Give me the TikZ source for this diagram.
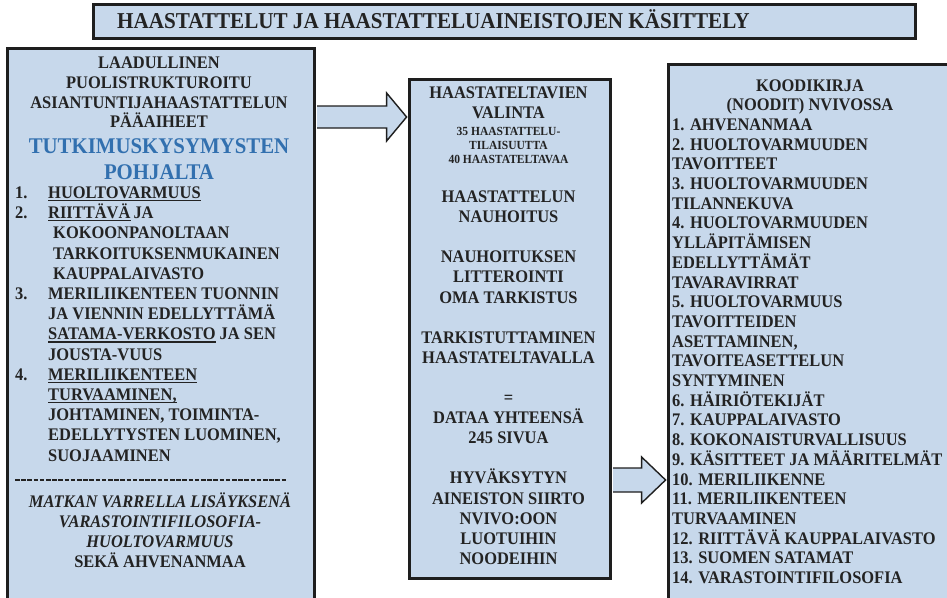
\documentclass[tikz,border=0pt]{standalone}
\usepackage{fontspec}
\setmainfont{Liberation Serif}[FakeStretch=0.93]
\usetikzlibrary{calc}
\definecolor{boxfill}{RGB}{199,216,235}
\definecolor{boxline}{RGB}{30,30,30}
\definecolor{txt}{RGB}{35,35,35}
\definecolor{blu}{RGB}{50,112,175}
\newcommand\bodyfnt{\fontsize{17.7}{20}\selectfont\bfseries}
\newcommand\titlefnt{\fontsize{22.7}{24}\selectfont\bfseries}
\newcommand\smallfnt{\fontsize{12.4}{14}\selectfont\bfseries}
\newcommand\bluefnt{\fontsize{22.4}{24}\selectfont\bfseries}
\newcommand\ulbox[1]{\setbox0\hbox{#1}\rlap{\rule[-2.6pt]{\wd0}{1.2pt}}\box0}
\tikzset{
  panel/.style={draw=boxline, line width=2.8pt, fill=boxfill, inner sep=0pt, anchor=north west},
  barrow/.style={draw=boxline, line width=1.4pt, fill=boxfill, line join=miter},
  tc/.style={inner sep=0pt, text=txt, font=\bodyfnt, anchor=base},
  tl/.style={tc, anchor=base west},
  tsmall/.style={inner sep=0pt, text=txt, font=\smallfnt, anchor=base},
  tblue/.style={inner sep=0pt, text=blu, font=\bluefnt, anchor=base},
  ttitle/.style={inner sep=0pt, text=txt, font=\titlefnt, anchor=base west},
  dashline/.style={draw=txt, line width=1.5pt, dash pattern=on 4.6pt off 1.6pt}
}
\begin{document}
\begin{tikzpicture}[x=1pt,y=-1pt]
\useasboundingbox (0,0) rectangle (947,597);
\clip (0,0) rectangle (947,597);

% panels
\node[panel, minimum width=822pt, minimum height=34pt] (title) at (92,3) {};
\node[panel, minimum width=307pt, minimum height=573pt] (left) at (6,47) {};
\node[panel, minimum width=201pt, minimum height=499pt] (mid) at (408,78) {};
\node[panel, minimum width=308pt, minimum height=557pt] (right) at (667,63) {};

% block arrows
\coordinate (y1) at (0,117);
\coordinate (y2) at (0,480);
\coordinate (a1s) at ($(left.east|-y1)+(1.4,0)$);
\coordinate (a1t) at ($(mid.west|-y1)+(-1.4,0)$);
\coordinate (a2s) at ($(mid.east|-y2)+(1.4,0)$);
\coordinate (a2t) at ($(right.west|-y2)+(-1.4,0)$);
\draw[barrow] ($(a1s)+(0,-11)$) -- ($(a1t)+(-20,-11)$) -- ($(a1t)+(-20,-24)$) -- (a1t)
  -- ($(a1t)+(-20,24)$) -- ($(a1t)+(-20,11)$) -- ($(a1s)+(0,11)$);
\draw[barrow] ($(a2s)+(0,-12)$) -- ($(a2t)+(-24,-12)$) -- ($(a2t)+(-24,-23)$) -- (a2t)
  -- ($(a2t)+(-24,23)$) -- ($(a2t)+(-24,12)$) -- ($(a2s)+(0,12)$);

% title
\node[ttitle] (titletext) at (117,28) {HAASTATTELUT JA HAASTATTELUAINEISTOJEN KÄSITTELY};

% left panel
\foreach \yy/\tx [count=\i] in {68.5/LAADULLINEN, 88.5/PUOLISTRUKTUROITU, 108.5/ASIANTUNTIJAHAASTATTELUN, 127.5/PÄÄAIHEET}
  \node[tc] (lh\i) at (159,\yy) {\tx};
\node[tblue] (lb1) at (159,153) {TUTKIMUSKYSYMYSTEN};
\node[tblue] (lb2) at (159,179) {POHJALTA};
\foreach \tx [count=\i from 0] in {\ulbox{HUOLTOVARMUUS}, {\ulbox{RIITTÄVÄ}\hspace{3pt}JA}, \hspace{5pt}KOKOONPANOLTAAN,
  \hspace{5pt}TARKOITUKSENMUKAINEN, \hspace{5pt}KAUPPALAIVASTO, MERILIIKENTEEN TUONNIN,
  JA VIENNIN EDELLYTTÄMÄ, {\ulbox{SATAMA-VERKOSTO}\ JA SEN}, JOUSTA-VUUS, \ulbox{MERILIIKENTEEN},
  {\ulbox{TURVAAMINEN,}}, {JOHTAMINEN, TOIMINTA-}, {EDELLYTYSTEN LUOMINEN,}, SUOJAAMINEN}
  \node[tl] (ll\i) at (48,198.5+20.2*\i) {\tx};
\node[tl] (n1) at (15,198.5) {1.};
\node[tl] (n2) at (15,218.7) {2.};
\node[tl] (n3) at (15,299.5) {3.};
\node[tl] (n4) at (15,380.3) {4.};
\coordinate (d1) at (15,480);
\coordinate (d2) at (287,480);
\draw[dashline] (d1) -- (d2);
\foreach \yy/\tx [count=\i] in {507.5/MATKAN VARRELLA LISÄYKSENÄ, 527.5/VARASTOINTIFILOSOFIA-, 547.5/HUOLTOVARMUUS}
  \node[tc, font=\bodyfnt\itshape] (li\i) at (160,\yy) {\tx};
\node[tc] (li4) at (160,567.5) {SEKÄ AHVENANMAA};

% middle panel
\node[tc] (m1) at (508.5,98.5) {HAASTATELTAVIEN};
\node[tc] (m2) at (508.5,118.5) {VALINTA};
\node[tsmall] (ms1) at (508.5,135.8) {35 HAASTATTELU-};
\node[tsmall] (ms2) at (508.5,149.8) {TILAISUUTTA};
\node[tsmall] (ms3) at (508.5,163.8) {40 HAASTATELTAVAA};
\foreach \k/\tx in {0/HAASTATTELUN, 1/NAUHOITUS, 3/NAUHOITUKSEN, 4/LITTEROINTI, 5/OMA TARKISTUS,
  7/TARKISTUTTAMINEN, 8/HAASTATELTAVALLA, 10/=, 11/DATAA YHTEENSÄ, 12/245 SIVUA,
  14/HYVÄKSYTYN, 15/AINEISTON SIIRTO, 16/NVIVO:OON, 17/LUOTUIHIN, 18/NOODEIHIN}
  \node[tc] (mb\k) at (508.5,202.5+20.1*\k) {\tx};

% right panel
\node[tc] (rh1) at (810,91) {KOODIKIRJA};
\node[tc] (rh2) at (810,110.7) {(NOODIT) NVIVOSSA};
\foreach \tx [count=\i from 0] in {1. AHVENANMAA, 2. HUOLTOVARMUUDEN, TAVOITTEET, 3. HUOLTOVARMUUDEN,
  TILANNEKUVA, 4. HUOLTOVARMUUDEN, YLLÄPITÄMISEN, EDELLYTTÄMÄT, TAVARAVIRRAT, 5. HUOLTOVARMUUS,
  TAVOITTEIDEN, {ASETTAMINEN,}, TAVOITEASETTELUN, SYNTYMINEN, 6. HÄIRIÖTEKIJÄT, 7. KAUPPALAIVASTO,
  8. KOKONAISTURVALLISUUS, 9. KÄSITTEET JA MÄÄRITELMÄT, 10. MERILIIKENNE, 11. MERILIIKENTEEN,
  TURVAAMINEN, 12. RIITTÄVÄ KAUPPALAIVASTO, 13. SUOMEN SATAMAT, 14. VARASTOINTIFILOSOFIA}
  \node[tl] (r\i) at (672,130.4+19.7*\i) {\tx};
\end{tikzpicture}
\end{document}
